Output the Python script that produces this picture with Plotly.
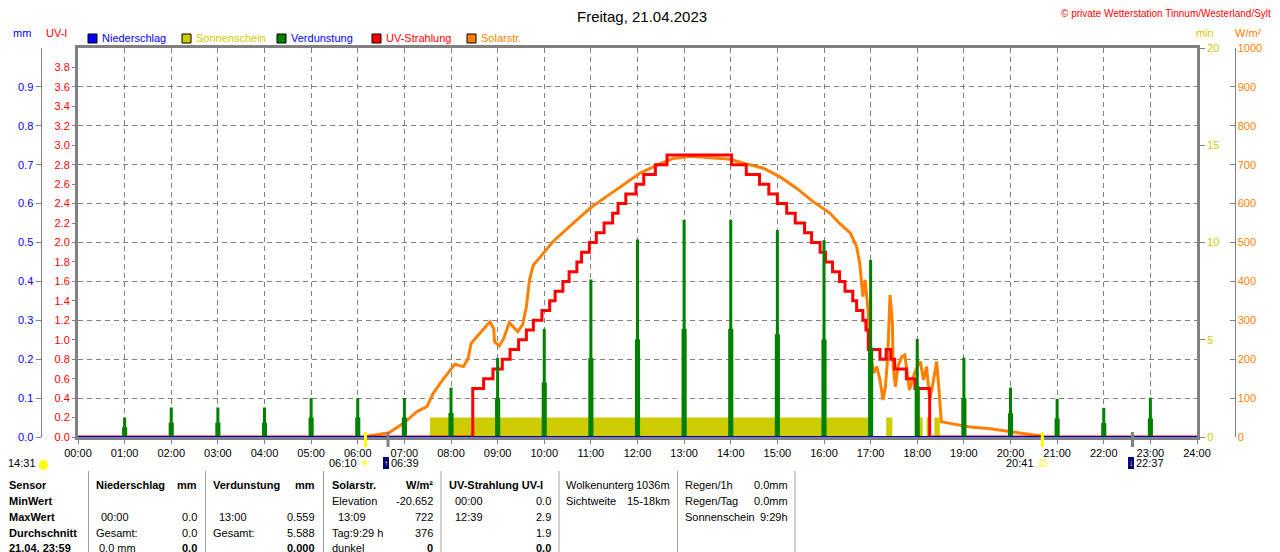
import plotly.graph_objects as go

# ---- data (Freitag 21.04.2023) ----
hour_labels = ["%02d:00" % h for h in range(25)]

verd_hours = list(range(1, 24))
verd_peak = [0.05, 0.076, 0.076, 0.076, 0.10, 0.10, 0.10, 0.127, 0.203, 0.278, 0.405, 0.508,
             0.558, 0.558, 0.532, 0.506, 0.455, 0.252, 0.204, 0.127, 0.098, 0.075, 0.101]
verd_base = [0.025, 0.037, 0.037, 0.037, 0.05, 0.05, 0.05, 0.062, 0.10, 0.14, 0.203, 0.251,
             0.278, 0.278, 0.264, 0.251, 0.23, 0.13, 0.10, 0.061, 0.048, 0.036, 0.048]

sun_start = ["07:33", "17:20", "18:02", "18:12", "18:22"]
sun_end = ["17:00", "17:28", "18:07", "18:15", "18:29"]
sun_min = [1, 1, 1, 1, 1]

uv_time = ["00:00", "08:28", "08:42", "08:54", "09:06", "09:16", "09:27", "09:37", "09:46", "09:57",
           "10:07", "10:14", "10:24", "10:32", "10:42", "10:48", "10:58", "11:07", "11:17", "11:28",
           "11:35", "11:45", "11:58", "12:08", "12:23", "12:38", "14:01", "14:20", "14:37", "14:49",
           "15:00", "15:12", "15:23", "15:35", "15:44", "15:55", "16:02", "16:11", "16:20", "16:27",
           "16:37", "16:42", "16:50", "16:54", "16:57", "17:12", "17:20", "17:26", "17:31", "17:46",
           "17:57", "18:16", "24:00"]
uv_val = [0.0, 0.5, 0.6, 0.7, 0.8, 0.9, 1.0, 1.1, 1.2, 1.3,
          1.4, 1.5, 1.6, 1.7, 1.8, 1.9, 2.0, 2.1, 2.2, 2.3,
          2.4, 2.5, 2.6, 2.7, 2.8, 2.9, 2.8, 2.7, 2.6, 2.5,
          2.4, 2.3, 2.2, 2.1, 2.0, 1.9, 1.8, 1.7, 1.6, 1.5,
          1.4, 1.3, 1.2, 1.1, 0.9, 0.8, 0.9, 0.8, 0.7, 0.6,
          0.5, 0.0, 0.0]

solar_time = ["06:10", "06:16", "06:40", "06:59", "07:16", "07:29", "07:37", "07:46", "07:59", "08:05",
              "08:16", "08:22", "08:26", "08:37", "08:50", "08:55", "08:56", "09:02", "09:08", "09:15",
              "09:20", "09:26", "09:32", "09:37", "09:41", "09:46", "09:55", "10:11", "10:42", "10:59",
              "11:20", "11:42", "12:03", "12:25", "12:46", "13:09", "13:59", "14:20", "14:42", "15:04",
              "15:25", "15:46", "16:08", "16:20", "16:34", "16:42", "16:46", "16:50", "16:53", "16:57",
              "16:59", "17:04", "17:08", "17:12", "17:16", "17:19", "17:22", "17:25", "17:28", "17:29",
              "17:32", "17:35", "17:40", "17:44", "17:47", "17:50", "17:55", "18:00", "18:04", "18:08",
              "18:12", "18:16", "18:21", "18:25", "18:28", "18:31", "18:42", "19:08", "19:34", "19:59",
              "20:21", "20:38", "20:42"]
solar_wm2 = [0, 3, 11, 35, 65, 78, 112, 138, 172, 187,
             181, 202, 241, 267, 296, 279, 245, 234, 254, 294,
             284, 271, 288, 335, 404, 442, 463, 502, 558, 588,
             618, 648, 678, 699, 716, 722, 714, 702, 691, 668,
             639, 605, 575, 549, 524, 489, 447, 361, 404, 318,
             224, 164, 181, 147, 95, 129, 206, 365, 292, 181,
             129, 181, 206, 211, 164, 121, 155, 181, 194, 147,
             181, 95, 147, 194, 121, 39, 35, 26, 21, 14,
             9, 3, 0]

rain_time = ["00:00", "24:00"]
rain_mm = [0.0, 0.0]

sun_events = ["06:10", "20:41"]
moon_events = ["06:39", "22:37"]

FONT = "Liberation Sans, Arial, sans-serif"
GREY = "#808080"
OFF = 8                      # page body margin of the html file
W, H = 1280 - OFF, 552 - OFF
TOP, BOTTOM = 48, 437        # plot area in page pixels
LEFT, RIGHT = 78, 1197


def hrs(t):
    h, m = t.split(":")
    return int(h) + int(m) / 60.0


def px(x):
    return (x - OFF) / W


def py(y):
    return (BOTTOM - y) / (BOTTOM - TOP)


fig = go.Figure()

# sunshine minutes (bottom layer, main y axis)
fig.add_trace(go.Bar(
    x=[(hrs(a) + hrs(b)) / 2 for a, b in zip(sun_start, sun_end)],
    width=[hrs(b) - hrs(a) for a, b in zip(sun_start, sun_end)],
    y=sun_min, yaxis="y", marker_color="#CCCC00", marker_line_width=0))

# solar radiation
fig.add_trace(go.Scatter(x=[hrs(t) for t in solar_time], y=solar_wm2, yaxis="y2",
                         mode="lines", line=dict(color="#FF8000", width=3)))

# UV index
fig.add_trace(go.Scatter(x=[hrs(t) for t in uv_time], y=uv_val, yaxis="y3",
                         mode="lines", line=dict(color="#FF0000", width=3, shape="hv")))

# evaporation bars
fig.add_trace(go.Bar(x=verd_hours, y=verd_base, width=0.11, yaxis="y4",
                     marker_color="#008000", marker_line_width=0))
fig.add_trace(go.Bar(x=verd_hours, y=verd_peak, width=0.065, yaxis="y4",
                     marker_color="#008000", marker_line_width=0))

# precipitation
fig.add_trace(go.Scatter(x=[hrs(t) for t in rain_time], y=rain_mm, yaxis="y4",
                         mode="lines", line=dict(color="#0000CC", width=2)))

tick = dict(ticks="outside", ticklen=5, tickcolor=GREY, tickwidth=1)

fig.update_layout(
    template="none",
    width=W, height=H, autosize=False,
    margin=dict(l=0, r=0, t=TOP - OFF, b=552 - BOTTOM, pad=0),
    paper_bgcolor="white", plot_bgcolor="white",
    showlegend=False, barmode="overlay",
    font=dict(family=FONT, size=11, color="black"),
    xaxis=dict(domain=[px(LEFT), px(RIGHT)], range=[0, 24], tickvals=list(range(25)),
               ticktext=hour_labels, ticks="outside", ticklen=4, tickcolor=GREY,
               showgrid=True, gridcolor=GREY, gridwidth=1, griddash="5px,4px",
               showline=True, linecolor=GREY, linewidth=3, mirror=True, zeroline=False,
               automargin=False, tickfont=dict(size=11, color="black")),
    yaxis=dict(range=[0, 20], side="right", anchor="x", tickvals=[0, 5, 10, 15, 20],
               tickfont=dict(color="#CCCC00", size=11), showline=True, linecolor=GREY,
               linewidth=3, mirror=True, showgrid=False, zeroline=False, automargin=False, **tick),
    yaxis2=dict(range=[0, 1000], overlaying="y", anchor="free", position=px(1234.5),
                side="right", dtick=100, tickfont=dict(color="#FF8000", size=11),
                showline=True, linecolor=GREY, linewidth=1, showgrid=False, zeroline=False,
                ticks="inside", ticklen=5, tickcolor=GREY, automargin=False),
    yaxis3=dict(range=[0, 4], overlaying="y", anchor="x", side="left",
                tickvals=[i * 0.2 for i in range(20)], tickformat=".1f",
                tickfont=dict(color="#FF0000", size=11), showgrid=False, zeroline=False,
                showline=False, automargin=False, **tick),
    yaxis4=dict(range=[0, 1], overlaying="y", anchor="free", position=px(40.5), side="left",
                tickvals=[i * 0.1 for i in range(10)], tickformat=".1f",
                tickfont=dict(color="#0000FF", size=11), showline=True, linecolor=GREY,
                linewidth=1, showgrid=True, gridcolor=GREY, gridwidth=1, griddash="5px,4px",
                zeroline=False, automargin=False, **tick),
)

ann = []
shapes = []


def text(x, y, s, color="black", size=11, anchor="left"):
    ann.append(dict(x=px(x), y=py(y), xref="paper", yref="paper", text=s, showarrow=False,
                    xanchor=anchor, yanchor="middle", borderpad=0,
                    font=dict(family=FONT, size=size, color=color)))


# title and header
text(642, 16, "Freitag, 21.04.2023", size=15, anchor="center")
text(1272, 13, "© private Wetterstation Tinnum/Westerland/Sylt", color="#FF0000", size=10, anchor="right")
text(22, 33, "mm", color="#0000FF", anchor="center")
text(56, 33, "UV-I", color="#FF0000", anchor="center")
text(1205, 33, "min", color="#CCCC00", anchor="center")
text(1248, 33, "W/m²", color="#FF8000", anchor="center")

# legend
legend = [(88, "Niederschlag", "#0000FF", "#0000FF"),
          (182, "Sonnenschein", "#CCCC00", "#CCCC00"),
          (277, "Verdunstung", "#008000", "#0000FF"),
          (372, "UV-Strahlung", "#FF0000", "#FF0000"),
          (467, "Solarstr.", "#FF8000", "#FF8000")]
for x0, name, fill, tcol in legend:
    shapes.append(dict(type="rect", xref="paper", yref="paper", x0=px(x0), x1=px(x0 + 9),
                       y0=py(43), y1=py(34), fillcolor=fill, line=dict(color="black", width=1)))
    text(x0 + 13, 38.5, name, color=tcol)

# sun / moon markers on the time axis
for t in sun_events:
    shapes.append(dict(type="line", xref="x", yref="paper", x0=hrs(t), x1=hrs(t),
                       y0=py(432), y1=py(447), line=dict(color="#FFFF00", width=3)))
for t in moon_events:
    shapes.append(dict(type="line", xref="x", yref="paper", x0=hrs(t), x1=hrs(t),
                       y0=py(432), y1=py(447), line=dict(color=GREY, width=3)))

text(37, 463, "14:31", anchor="right")
shapes.append(dict(type="circle", xref="paper", yref="paper", x0=px(39), x1=px(48),
                   y0=py(470), y1=py(460), fillcolor="#FFFF00", line=dict(width=0)))
text(358, 463, "06:10", anchor="right")
text(365, 463, "☀", color="#FFFF00", size=11, anchor="center")
text(1035, 463, "20:41", anchor="right")
shapes.append(dict(type="rect", xref="paper", yref="paper", x0=px(1040), x1=px(1046),
                   y0=py(466), y1=py(460), fillcolor="white", line=dict(color="#FFFF00", width=1)))
for x0, lab, arrow in [(383, "06:39", "↑"), (1128, "22:37", "↓")]:
    shapes.append(dict(type="rect", xref="paper", yref="paper", x0=px(x0), x1=px(x0 + 6),
                       y0=py(469), y1=py(457), fillcolor="#000080", line=dict(width=0)))
    text(x0 + 3, 463, "<b>%s</b>" % arrow, color="#FFFF00", size=8, anchor="center")
    text(x0 + 7, 463, lab)

# statistics table
rows_y = [485, 501, 517, 533, 548]
table_cells = [
    (8, 0, "<b>Sensor</b>", "left"), (8, 1, "<b>MinWert</b>", "left"),
    (8, 2, "<b>MaxWert</b>", "left"), (8, 3, "<b>Durchschnitt</b>", "left"),
    (8, 4, "<b>21.04. 23:59</b>", "left"),
    (95, 0, "<b>Niederschlag</b>", "left"), (198, 0, "<b>mm</b>", "right"),
    (100, 2, "00:00", "left"), (198, 2, "0.0", "right"),
    (95, 3, "Gesamt:", "left"), (198, 3, "0.0", "right"),
    (98, 4, "0.0 mm", "left"), (198, 4, "<b>0.0</b>", "right"),
    (212, 0, "<b>Verdunstung</b>", "left"), (316, 0, "<b>mm</b>", "right"),
    (218, 2, "13:00", "left"), (316, 2, "0.559", "right"),
    (212, 3, "Gesamt:", "left"), (316, 3, "5.588", "right"),
    (316, 4, "<b>0.000</b>", "right"),
    (331, 0, "<b>Solarstr.</b>", "left"), (434, 0, "<b>W/m²</b>", "right"),
    (331, 1, "Elevation", "left"), (434, 1, "-20.652", "right"),
    (337, 2, "13:09", "left"), (434, 2, "722", "right"),
    (331, 3, "Tag:9:29 h", "left"), (434, 3, "376", "right"),
    (331, 4, "dunkel", "left"), (434, 4, "<b>0</b>", "right"),
    (448, 0, "<b>UV-Strahlung UV-I</b>", "left"),
    (454, 1, "00:00", "left"), (552, 1, "0.0", "right"),
    (454, 2, "12:39", "left"), (552, 2, "2.9", "right"),
    (552, 3, "1.9", "right"), (552, 4, "<b>0.0</b>", "right"),
    (565, 0, "Wolkenunterg", "left"), (671, 0, "1036m", "right"),
    (565, 1, "Sichtweite", "left"), (671, 1, "15-18km", "right"),
    (684, 0, "Regen/1h", "left"), (789, 0, "0.0mm", "right"),
    (684, 1, "Regen/Tag", "left"), (789, 1, "0.0mm", "right"),
    (684, 2, "Sonnenschein", "left"), (789, 2, "9:29h", "right"),
]
for x0, r, s, a in table_cells:
    text(x0, rows_y[r], s, anchor=a)

for xs in [88.5, 205.5, 323.5, 441, 559, 677.5, 795]:
    shapes.append(dict(type="line", xref="paper", yref="paper", x0=px(xs), x1=px(xs),
                       y0=py(471), y1=py(552), line=dict(color="#A0A0A0", width=1)))

fig.update_layout(annotations=ann, shapes=shapes)

fig.write_html("out.html")
